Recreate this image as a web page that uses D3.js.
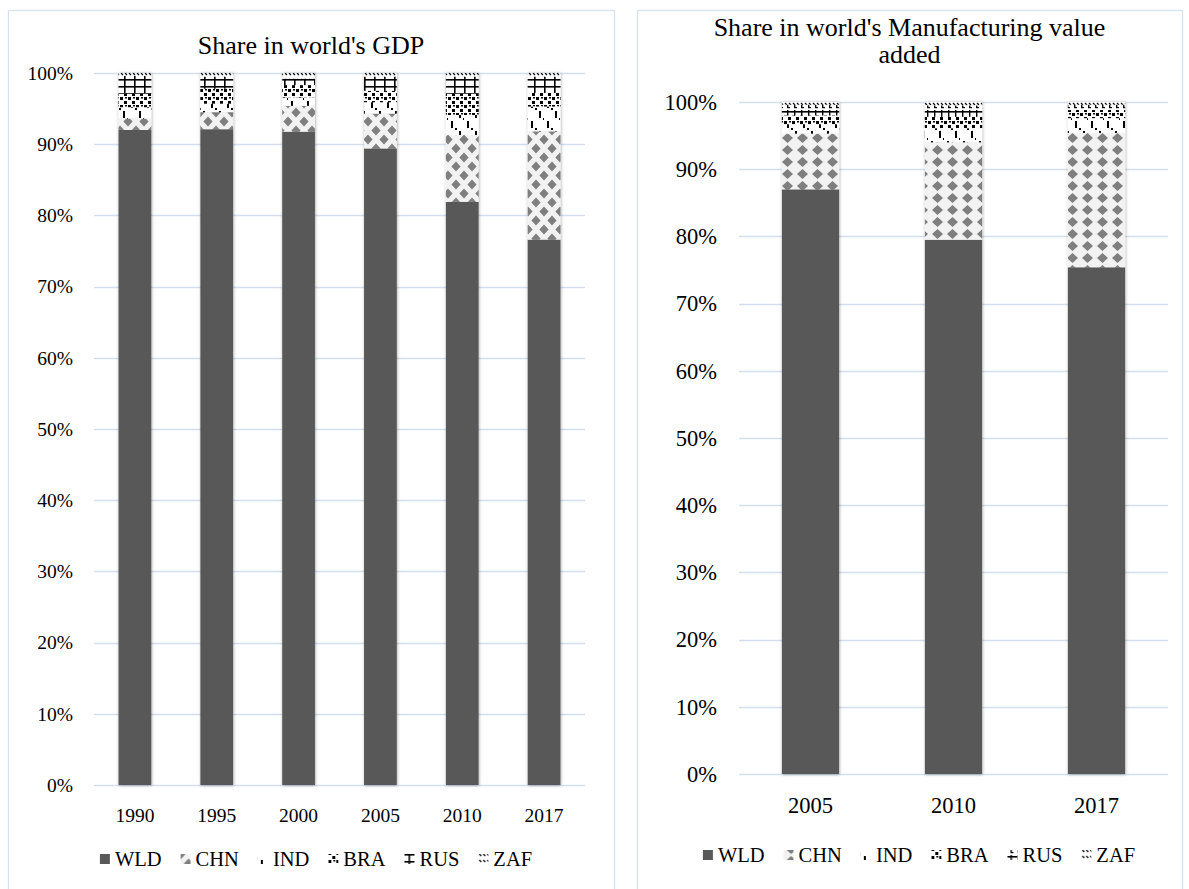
<!DOCTYPE html>
<html>
<head>
<meta charset="utf-8">
<script src="https://cdn.jsdelivr.net/npm/d3@7"></script>
<style>
  body { margin: 0; background: #fff; }
  svg { display: block; }
  svg text { font-family: "Liberation Serif", "Times New Roman", serif; fill: #000; }
</style>
</head>
<body>
<svg id="chart" width="1189" height="889"></svg>
<script>
// ---- data (percent of world total) ----
var keys = ["WLD", "CHN", "IND", "BRA", "RUS", "ZAF"];

var gdpYears = ["1990", "1995", "2000", "2005", "2010", "2017"];
var gdpWLD = [92.0, 92.1, 91.75, 89.4, 81.9, 76.6];
var gdpCHN = [1.6, 2.4, 3.65, 4.9, 9.4, 15.2];
var gdpIND = [1.6, 1.2, 1.2, 1.6, 2.8, 3.5];
var gdpBRA = [1.9, 2.1, 1.7, 1.6, 3.0, 1.9];
var gdpRUS = [2.5, 1.7, 0.9, 2.0, 2.4, 2.3];
var gdpZAF = [0.4, 0.5, 0.8, 0.5, 0.5, 0.5];

var mvaYears = ["2005", "2010", "2017"];
var mvaWLD = [87.0, 79.5, 75.4];
var mvaCHN = [8.3, 14.5, 20.0];
var mvaIND = [1.4, 2.1, 2.2];
var mvaBRA = [1.3, 1.7, 1.2];
var mvaRUS = [1.6, 1.7, 0.8];
var mvaZAF = [0.4, 0.5, 0.4];

var yTicks = [0, 10, 20, 30, 40, 50, 60, 70, 80, 90, 100];

var serif = "'Liberation Serif', 'Times New Roman', serif";
var svg = d3.select("#chart");
var defs = svg.append("defs");

var gridColor = "#d3def0";
var borderColor = "#d6e1f1";

// ---- fill patterns ----
function pattern(id, w, h, build) {
  var p = defs.append("pattern")
      .attr("id", id)
      .attr("patternUnits", "userSpaceOnUse")
      .attr("width", w)
      .attr("height", h);
  build(p);
}
function diamond(p, cx, cy, rx, ry) {
  p.append("path")
    .attr("d", "M" + cx + "," + (cy - ry) + "L" + (cx + rx) + "," + cy +
               "L" + cx + "," + (cy + ry) + "L" + (cx - rx) + "," + cy + "Z")
    .attr("fill", "#7f7f7f");
}
function bg(p, w, h, c) {
  p.append("rect").attr("width", w).attr("height", h).attr("fill", c);
}
function box(p, x, y, w, h) {
  p.append("rect").attr("x", x).attr("y", y).attr("width", w).attr("height", h).attr("fill", "#000");
}

pattern("chnL", 16, 18, function(p) {
  bg(p, 16, 18, "#f2f2f2");
  [[8, 4.5], [8, 22.5], [0, 13.5], [16, 13.5], [0, -4.5], [16, -4.5]].forEach(function(c) {
    diamond(p, c[0], c[1], 4.6, 5);
  });
});
pattern("chnR", 15, 12, function(p) {
  bg(p, 15, 12, "#f2f2f2");
  diamond(p, 7.5, 6, 5.5, 5);
});
pattern("ind", 16, 20, function(p) {
  bg(p, 16, 20, "#fff");
  box(p, 3, 1, 2, 7);
  box(p, 11, 11, 2, 7);
  box(p, 7, 8, 2, 2);
  box(p, 15, 18, 1, 2);
});
pattern("bra", 8, 8, function(p) {
  bg(p, 8, 8, "#fff");
  box(p, 0, 1, 3, 3);
  box(p, 4, 5, 3, 3);
  box(p, 5, 1, 2, 1.5);
});
pattern("rusL", 10, 7, function(p) {
  bg(p, 10, 7, "#fff");
  box(p, 0, 2, 10, 1.6);
  box(p, 4, 0, 1.6, 7);
});
pattern("rusR", 7, 10, function(p) {
  bg(p, 7, 10, "#fff");
  box(p, 0, 1, 7, 1.6);
  box(p, 3, 0, 1.4, 8);
  box(p, 3, 7, 3, 1.2);
});
pattern("zaf", 8, 6, function(p) {
  bg(p, 8, 6, "#fff");
  p.append("path").attr("d", "M1,1L3,3M5,1L7,3").attr("stroke", "#000").attr("stroke-width", 1.2);
});

var shadow = defs.append("filter").attr("id", "shadow")
    .attr("x", "-30%").attr("y", "-5%").attr("width", "160%").attr("height", "110%");
shadow.append("feDropShadow")
    .attr("dx", 0.5).attr("dy", 0.5).attr("stdDeviation", 1.6)
    .attr("flood-color", "#000").attr("flood-opacity", 0.35);

function serifText(sel, size) {
  sel.attr("font-family", serif)
     .style("font-family", serif)
     .style("font-size", size + "px")
     .style("fill", "#000");
}

// ---- one chart panel ----
function drawPanel(cfg) {
  var g = svg.append("g");

  g.append("rect")
      .attr("x", cfg.panel[0] + 0.5).attr("y", cfg.panel[1] + 0.5)
      .attr("width", cfg.panel[2]).attr("height", cfg.panel[3])
      .attr("fill", "#fff").attr("stroke", borderColor).attr("stroke-width", 1.3);

  var rows = cfg.years.map(function(yr, i) {
    var r = { year: yr };
    keys.forEach(function(k) { r[k] = cfg.series[k][i]; });
    return r;
  });
  var stacked = d3.stack().keys(keys)(rows);

  var x = d3.scaleBand().domain(cfg.years).range(cfg.xRange)
      .paddingInner(0.6).paddingOuter(0.3);
  var y = d3.scaleLinear().domain([0, 100]).range(cfg.yRange);

  // gridlines
  g.append("g").selectAll("line").data(yTicks).enter().append("line")
      .attr("x1", cfg.xRange[0]).attr("x2", cfg.xRange[1])
      .attr("y1", function(d) { return Math.round(y(d)) + 0.5; })
      .attr("y2", function(d) { return Math.round(y(d)) + 0.5; })
      .attr("stroke", gridColor).attr("stroke-width", 1.3);

  // y axis labels
  var yAxis = d3.axisLeft(y).tickValues(yTicks).tickSize(0).tickPadding(0)
      .tickFormat(function(d) { return d + "%"; });
  var ya = g.append("g").attr("transform", "translate(" + cfg.yLabelX + ",0)").call(yAxis);
  ya.select(".domain").remove();
  ya.attr("font-family", serif);
  serifText(ya.selectAll("text"), cfg.tickSize);

  // bars
  var bars = g.append("g").attr("filter", "url(#shadow)");
  stacked.forEach(function(layer) {
    bars.append("g").selectAll("rect").data(layer).enter().append("rect")
        .attr("x", function(d) { return x(d.data.year); })
        .attr("width", x.bandwidth())
        .attr("y", function(d) { return y(d[1]); })
        .attr("height", function(d) { return y(d[0]) - y(d[1]); })
        .attr("fill", cfg.fills[layer.key]);
  });

  // x axis labels
  var xAxis = d3.axisBottom(x).tickSize(0).tickPadding(0);
  var xa = g.append("g").attr("transform", "translate(0," + cfg.xLabelY + ")").call(xAxis);
  xa.select(".domain").remove();
  xa.attr("font-family", serif);
  serifText(xa.selectAll("text").attr("dy", "0.35em"), cfg.tickSize);

  // title
  var cx = cfg.panel[0] + cfg.panel[2] / 2;
  cfg.title.forEach(function(t, i) {
    var tt = g.append("text").attr("x", cx).attr("y", cfg.titleY + i * cfg.titleLead)
        .attr("text-anchor", "middle").text(t);
    serifText(tt, 26);
  });

  // legend
  var gap = 19;
  var lg = g.append("g");
  var pos = 0;
  keys.forEach(function(k) {
    var it = lg.append("g");
    it.append("rect").attr("x", 0).attr("y", -5).attr("width", 10).attr("height", 10)
        .attr("fill", cfg.fills[k]);
    var t = it.append("text").attr("x", 15).attr("dy", "0.35em").text(k);
    serifText(t, cfg.legendSize);
    var w = 15 + t.node().getComputedTextLength();
    it.attr("transform", "translate(" + pos + "," + cfg.legendY + ")");
    pos += w + gap;
  });
  var total = pos - gap;
  lg.attr("transform", "translate(" + (cfg.legendX - total / 2) + ",0)");
}

drawPanel({
  panel: [8, 10, 606, 900],
  years: gdpYears,
  series: { WLD: gdpWLD, CHN: gdpCHN, IND: gdpIND, BRA: gdpBRA, RUS: gdpRUS, ZAF: gdpZAF },
  xRange: [94, 585],
  yRange: [785, 73],
  yLabelX: 73,
  xLabelY: 815,
  tickSize: 19.5,
  fills: { WLD: "#595959", CHN: "url(#chnL)", IND: "url(#ind)", BRA: "url(#bra)", RUS: "url(#rusL)", ZAF: "url(#zaf)" },
  title: ["Share in world's GDP"],
  titleY: 54,
  titleLead: 27,
  legendX: 316,
  legendY: 859,
  legendSize: 20.5
});

drawPanel({
  panel: [637, 10, 545, 900],
  years: mvaYears,
  series: { WLD: mvaWLD, CHN: mvaCHN, IND: mvaIND, BRA: mvaBRA, RUS: mvaRUS, ZAF: mvaZAF },
  xRange: [739, 1168],
  yRange: [774, 102],
  yLabelX: 717,
  xLabelY: 805,
  tickSize: 22.5,
  fills: { WLD: "#595959", CHN: "url(#chnR)", IND: "url(#ind)", BRA: "url(#bra)", RUS: "url(#rusR)", ZAF: "url(#zaf)" },
  title: ["Share in world's Manufacturing value", "added"],
  titleY: 36,
  titleLead: 27,
  legendX: 919,
  legendY: 855,
  legendSize: 20.5
});
</script>
</body>
</html>
